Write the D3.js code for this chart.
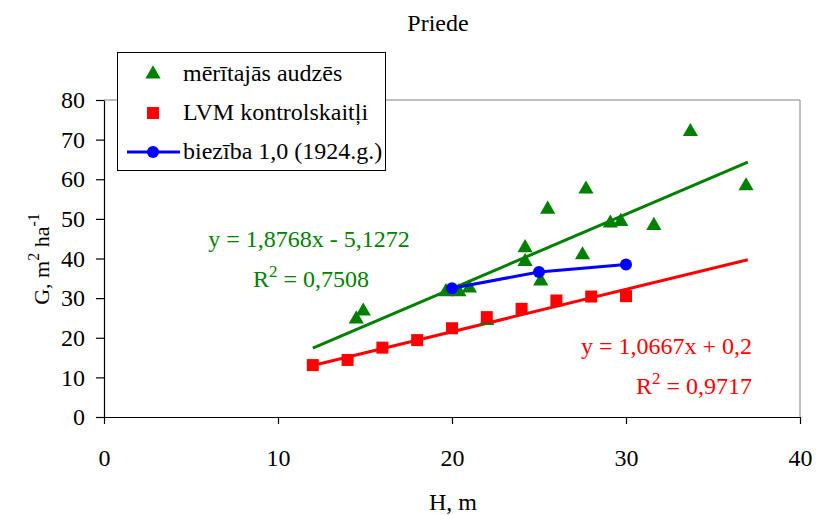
<!DOCTYPE html>
<html><head><meta charset="utf-8">
<script src="https://cdn.jsdelivr.net/npm/d3@7/dist/d3.min.js"></script>
<style>body{margin:0;background:#fff}svg{display:block}text{font-family:"Liberation Serif","Times New Roman",serif}</style>
</head><body><svg id="c" width="816" height="515"></svg>
<script>
const measuredH = [33.7,36.9,27.7,25.5,29.1,29.7,31.6,24.2,24.2,27.5,25.1,19.65,20.4,21.0,14.9,14.5,22.0];
const measuredG = [72.0,58.3,57.5,52.4,48.9,49.3,48.3,42.7,39.2,40.9,34.3,31.6,31.6,32.5,26.7,24.7,24.3];
const lvmH = [12,14,16,18,20,22,24,26,28,30];
const lvmG = [13.1,14.4,17.5,19.4,22.4,25.2,27.3,29.4,30.4,30.5];
const densH = [20,25,30];
const densG = [32.5,36.6,38.5];
const trendRange = [12,37];
const greenFit = {a:1.8768,b:-5.1272};
const redFit = {a:1.0667,b:0.2};
const xTicks = [0,10,20,30,40];
const yTicks = [0,10,20,30,40,50,60,70,80];
const legendLabels = ["mērītajās audzēs","LVM kontrolskaitļi","biezība 1,0 (1924.g.)"];

const FS=24;
const svg = d3.select("#c");
const L=104,R=800,T=100,B=417;
const x = d3.scaleLinear().domain([0,40]).range([L,R]);
const y = d3.scaleLinear().domain([0,80]).range([B,T]);
const GREEN="#008000",RED="#ff0000",BLUE="#0000ff";

svg.append("text").attr("x",438).attr("y",31).attr("text-anchor","middle").attr("font-size",FS).text("Priede");

// plot border (top/right gray)
svg.append("path").attr("d",`M${L},${T}H${R}V${B}`).attr("fill","none").attr("stroke","#808080").attr("stroke-width",1);

const ya = svg.append("g").attr("transform",`translate(${L},0)`).call(d3.axisLeft(y).tickValues(yTicks).tickSize(8).tickPadding(11).tickSizeOuter(0));
const xa = svg.append("g").attr("transform",`translate(0,${B})`).call(d3.axisBottom(x).tickValues(xTicks).tickSize(7).tickPadding(25).tickSizeOuter(0));
[ya,xa].forEach(a=>{a.selectAll("text").attr("font-size",FS).attr("font-family","Liberation Serif").attr("fill","#000");a.selectAll("line,path").attr("stroke","#000").attr("stroke-width",1.2);});

svg.append("text").attr("x",453).attr("y",510).attr("text-anchor","middle").attr("font-size",FS).text("H, m");
const yl = svg.append("text").attr("transform","translate(49,259) rotate(-90)").attr("text-anchor","middle").attr("font-size",22);
yl.append("tspan").text("G, m");
yl.append("tspan").attr("dy",-10).attr("font-size",16).text("2");
yl.append("tspan").attr("dy",10).text(" ha");
yl.append("tspan").attr("dy",-10).attr("font-size",16).text("-1");

// trendlines
const line = d3.line().x(d=>x(d[0])).y(d=>y(d[1]));
[[greenFit,GREEN],[redFit,RED]].forEach(([f,c])=>{
  svg.append("path").attr("d",line(trendRange.map(h=>[h,f.a*h+f.b]))).attr("stroke",c).attr("stroke-width",3).attr("fill","none");
});

const tri = d3.symbol().type(d3.symbolTriangle).size(100);
svg.append("g").selectAll("path").data(measuredH.map((h,i)=>[h,measuredG[i]])).join("path")
  .attr("d",tri).attr("fill",GREEN).attr("transform",d=>`translate(${x(d[0])},${y(d[1])})`);

svg.append("g").selectAll("rect").data(lvmH.map((h,i)=>[h,lvmG[i]])).join("rect")
  .attr("x",d=>x(d[0])-6).attr("y",d=>y(d[1])-6).attr("width",12).attr("height",12).attr("fill",RED);

const dens = densH.map((h,i)=>[h,densG[i]]);
svg.append("path").attr("d",line(dens)).attr("stroke",BLUE).attr("stroke-width",3).attr("fill","none");
svg.append("g").selectAll("circle").data(dens).join("circle").attr("cx",d=>x(d[0])).attr("cy",d=>y(d[1])).attr("r",6).attr("fill",BLUE);

// equations
function eq(xp,yp,txt,r2,c,anchor){
  svg.append("text").attr("x",xp).attr("y",yp).attr("text-anchor",anchor).attr("font-size",FS).attr("fill",c).text(txt);
  const t = svg.append("text").attr("x",r2[0]).attr("y",r2[1]).attr("text-anchor",anchor).attr("font-size",FS).attr("fill",c);
  t.append("tspan").text("R");
  t.append("tspan").attr("dy",-10).attr("font-size",17).text("2");
  t.append("tspan").attr("dy",10).text(" = "+r2[2]);
}
eq(309,247,"y = 1,8768x - 5,1272",[311,287,"0,7508"],GREEN,"middle");
eq(752,354,"y = 1,0667x + 0,2",[752,394,"0,9717"],RED,"end");

// legend
const lg = svg.append("g");
lg.append("rect").attr("x",117.5).attr("y",52.5).attr("width",268).attr("height",118).attr("fill","#fff").attr("stroke","#000").attr("stroke-width",1);
lg.append("path").attr("d",tri).attr("fill",GREEN).attr("transform","translate(153,74)");
lg.append("rect").attr("x",147).attr("y",107).attr("width",12).attr("height",12).attr("fill",RED);
lg.append("line").attr("x1",127).attr("x2",180).attr("y1",152).attr("y2",152).attr("stroke",BLUE).attr("stroke-width",3);
lg.append("circle").attr("cx",153).attr("cy",152).attr("r",6).attr("fill",BLUE);
legendLabels.forEach((s,i)=>lg.append("text").attr("x",183).attr("y",81+i*39).attr("font-size",FS).text(s));
</script></body></html>
